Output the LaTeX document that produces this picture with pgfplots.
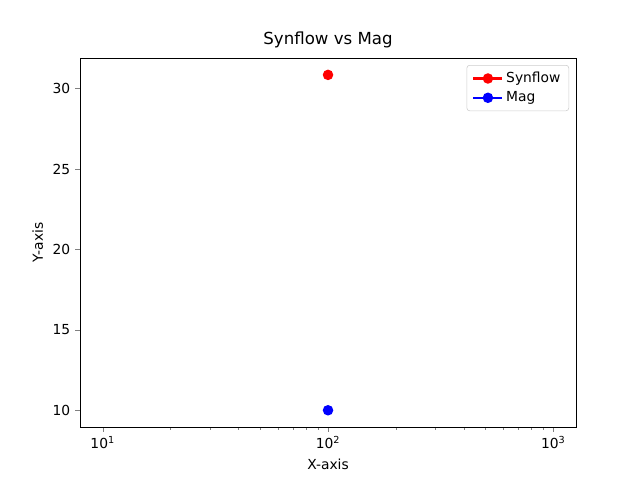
\documentclass[border=0pt]{standalone}
\usepackage{pgfplots}
\pgfplotsset{compat=1.18}
\usepackage{fontspec}
\setmainfont{DejaVu Sans}
\begin{document}
\begin{tikzpicture}
\path (0,0) rectangle (6.4in,4.8in);
\begin{axis}[
  at={(0.8in,0.53in)}, anchor=south west,
  scale only axis, width=4.96in, height=3.69in,
  xmode=log, xmin=7.93, xmax=1261,
  ymin=8.96, ymax=31.9,
  xtick={10,100,1000},
  xticklabels={10\textsuperscript{1},10\textsuperscript{2},10\textsuperscript{3}},
  ytick={10,15,20,25,30},
  tick align=outside, xtick pos=bottom, ytick pos=left,
  major tick length=3.5pt, minor tick length=2pt,
  /pgf/number format/assume math mode=true,
  tick label style={font=\fontsize{10}{12}\selectfont},
  title={Synflow vs Mag},
  title style={font=\fontsize{12}{14}\selectfont, yshift=-2pt},
  xlabel={X-axis}, ylabel={Y-axis},
  label style={font=\fontsize{10}{12}\selectfont},
  legend style={font=\fontsize{10}{12}\selectfont, draw=black!20, rounded corners=2pt, at={(0.986,0.981)}, anchor=north east, row sep=1pt, inner xsep=4pt, inner ysep=3pt, /tikz/every even column/.append style={column sep=4pt}},
  legend cell align=left,
  legend image code/.code={\draw[#1, mark repeat=2, mark phase=2] plot coordinates {(0in,0in) (0.145in,0in) (0.29in,0in)};},
]
\addplot[red, line width=1.5pt, mark=*, mark size=3pt, mark options={solid}] coordinates {(100,30.85)};
\addlegendentry{Synflow}
\addplot[blue, line width=1.5pt, mark=*, mark size=3pt, mark options={solid}] coordinates {(100,10)};
\addlegendentry{Mag}
\end{axis}
\end{tikzpicture}
\end{document}
